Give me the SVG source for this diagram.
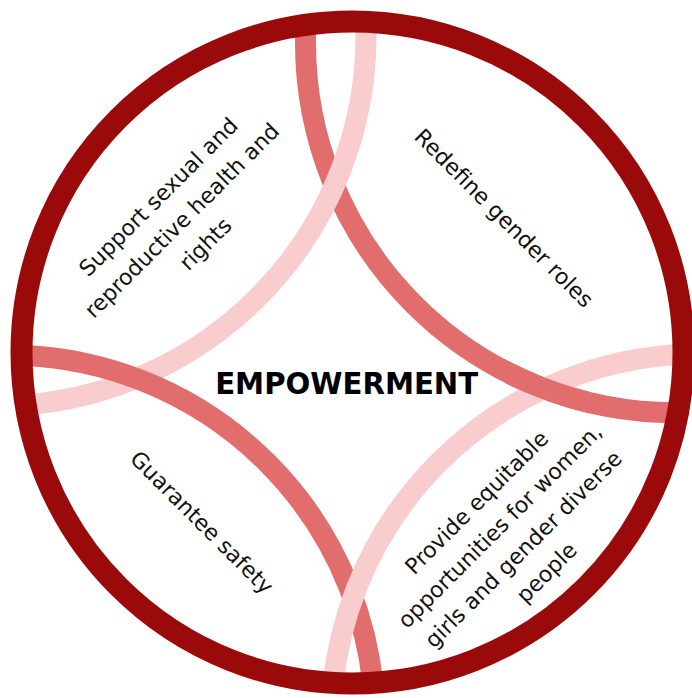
<svg xmlns="http://www.w3.org/2000/svg" width="692" height="698" viewBox="0 0 692 698">
<defs>
<style>
.red{fill:none;stroke:#e26d6d;stroke-width:21}
.pink{fill:none;stroke:#f9ccce;stroke-width:21}
.ring{fill:none;stroke:#9b0a0a;stroke-width:22}
.lbl{font-family:"DejaVu Sans","Liberation Sans",sans-serif;font-size:22px;fill:#111;text-anchor:middle}
.title{font-family:"DejaVu Sans","Liberation Sans",sans-serif;font-size:31px;font-weight:bold;fill:#000;text-anchor:middle}
</style>
<clipPath id="inner"><circle cx="352.5" cy="352.5" r="331"/></clipPath>
<clipPath id="weave"><rect x="505" y="350" width="85" height="80"/></clipPath>
</defs>
<rect width="692" height="698" fill="#fff"/>
<g id="connectors" clip-path="url(#inner)">
<circle id="arcA" class="red" cx="675.5" cy="42.7" r="370"/>
<circle id="arcB" class="pink" cx="-4" cy="36" r="370"/>
<circle id="arcC" class="red" cx="7" cy="723" r="368"/>
<circle id="arcD" class="pink" cx="700" cy="723" r="369"/>
<circle class="red" cx="675.5" cy="42.7" r="370" clip-path="url(#weave)"/>
</g>
<g id="ring"><circle class="ring" cx="352.5" cy="352.5" r="331"/></g>
<g id="center"><text class="title" x="346.7" y="394.3" textLength="263" lengthAdjust="spacingAndGlyphs">EMPOWERMENT</text></g>
<g id="support" transform="translate(181.8,220.4) rotate(-45)">
<text class="lbl" x="0" y="-25.5">Support sexual and</text>
<text class="lbl" x="0" y="7.7">reproductive health and</text>
<text class="lbl" x="0" y="40.9">rights</text>
</g>
<g id="redefine" transform="translate(504,218) rotate(45)">
<text class="lbl" x="0" y="7.7">Redefine gender roles</text>
</g>
<g id="safety" transform="translate(201.9,522.3) rotate(45)">
<text class="lbl" x="0" y="7.7">Guarantee safety</text>
</g>
<g id="provide" transform="translate(511.5,537.4) rotate(-45)">
<text class="lbl" x="0" y="-41.8">Provide equitable</text>
<text class="lbl" x="0" y="-8.8">opportunities for women,</text>
<text class="lbl" x="0" y="24.2">girls and gender diverse</text>
<text class="lbl" x="0" y="57.2">people</text>
</g>
</svg>
